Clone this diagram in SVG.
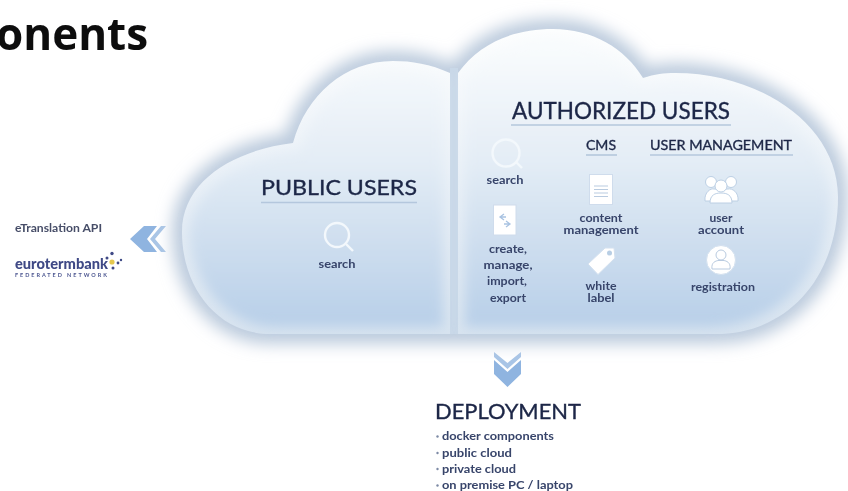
<svg xmlns="http://www.w3.org/2000/svg" width="848" height="491" viewBox="0 0 848 491">
<style>
text{font-family:"Lato","Open Sans","Liberation Sans",sans-serif;fill:#2f3c5e;font-weight:700;filter:url(#t)}
.h{fill:#1d2747;font-weight:400;stroke:#1d2747;stroke-width:.35}
.s{font-size:12px;text-anchor:middle;fill:#37446a}
.d{font-size:12px;fill:#37446a}
.u{stroke:#b4c7dd;stroke-width:1.6;fill:none}
.ic{fill:none;stroke:#f3f8fc;stroke-width:2.4;filter:url(#t)}
.w{fill:#fff;stroke:#cfdcec;stroke-width:1;filter:url(#t)}
.g{stroke:#b9cbe0;stroke-width:1;fill:none}
.c1{fill:#8fb4e0}
.c2{fill:#a9c5e6}
</style>
<defs>
<linearGradient id="base" gradientUnits="userSpaceOnUse" x1="0" y1="30" x2="0" y2="334">
<stop offset="0" stop-color="#fdfefe"/>
<stop offset="0.5" stop-color="#e9f0f7"/>
<stop offset="1" stop-color="#d7e3ef"/>
</linearGradient>
<linearGradient id="fill" gradientUnits="userSpaceOnUse" x1="0" y1="60" x2="0" y2="330">
<stop offset="0" stop-color="#f8fbfd"/>
<stop offset="0.4" stop-color="#e4edf6"/>
<stop offset="0.75" stop-color="#cbdcee"/>
<stop offset="1" stop-color="#b9d0e9"/>
</linearGradient>
<filter id="t" x="-5%" y="-20%" width="110%" height="140%"><feGaussianBlur stdDeviation="0.4"/></filter>
<filter id="halo" x="-15%" y="-20%" width="130%" height="140%"><feGaussianBlur stdDeviation="8"/></filter>
<filter id="inner" x="-10%" y="-10%" width="120%" height="120%"><feMorphology operator="erode" radius="7"/><feGaussianBlur stdDeviation="6"/></filter>
<path id="cloudL" d="M450 73 C430 64 412 61 393 61 C345 61 306 95 293 143 C235 150 182 180 182 232 C182 290 220 334 270 334 L450 334 Z"/>
<path id="cloudR" d="M458 73 C480 42 515 29 553 29 C592 29 625 48 643 78 C655 74 664 73 675 73 C760 73 838 125 838 197 C838 275 790 334 715 334 L458 334 Z"/>
</defs>

<g id="title">
<text x="-4" y="50" style="font-family:'Open Sans','Liberation Sans',sans-serif;font-weight:700;font-size:44px;fill:#0b0b0d" textLength="152" lengthAdjust="spacingAndGlyphs">onents</text>
</g>

<g id="connectors">
<g id="arrow-left">
<polygon class="c1" points="130,239 144,226 157,226 147,239 157,252 144,252"/>
<polygon class="c2" points="150,239 161,226 166,226 155,239 166,252 161,252"/>
</g>
<g id="arrow-down">
<polygon class="c2" points="494,352 507.5,363 521,352 521,357 507.5,369 494,357"/>
<polygon class="c1" points="494,360 507.5,372 521,360 521,374 507.5,387 494,374"/>
</g>
</g>

<g id="cloud">
<g filter="url(#halo)" fill="#bccbdd" stroke="#bccbdd" stroke-width="20">
<use href="#cloudL"/>
<use href="#cloudR"/>
</g>
<rect x="450" y="68" width="8" height="266" fill="#c9d8e8"/>
<use href="#cloudL" fill="url(#base)"/>
<use href="#cloudR" fill="url(#base)"/>
<use href="#cloudL" fill="url(#fill)" filter="url(#inner)"/>
<use href="#cloudR" fill="url(#fill)" filter="url(#inner)"/>
</g>

<g id="public-users">
<text class="h" x="261" y="195" font-size="22" textLength="156" lengthAdjust="spacingAndGlyphs">PUBLIC USERS</text>
<line class="u" x1="261" y1="202.500" x2="417" y2="202.500"/>
</g>
<g id="public-search">
<circle class="ic" cx="337" cy="235" r="12"/>
<line class="ic" x1="346" y1="244" x2="353" y2="251"/>
<text class="s" x="337" y="268" textLength="37" lengthAdjust="spacingAndGlyphs">search</text>
</g>

<g id="authorized-users">
<text class="h" x="512" y="119" font-size="23" textLength="218" lengthAdjust="spacingAndGlyphs">AUTHORIZED USERS</text>
<line class="u" x1="511" y1="125" x2="731" y2="125"/>
</g>
<g id="auth-search">
<circle class="ic" cx="506" cy="153" r="13.500"/>
<line class="ic" x1="516" y1="162" x2="522" y2="168"/>
<text class="s" x="505" y="184" textLength="37" lengthAdjust="spacingAndGlyphs">search</text>
</g>
<g id="cms">
<text class="h" x="586" y="150" font-size="14" textLength="30" lengthAdjust="spacingAndGlyphs">CMS</text>
<line class="u" x1="586" y1="155" x2="617" y2="155"/>
</g>
<g id="user-management">
<text class="h" x="650" y="150" font-size="14" textLength="142" lengthAdjust="spacingAndGlyphs">USER MANAGEMENT</text>
<line class="u" x1="650" y1="155" x2="793" y2="155"/>
</g>
<g id="create-manage">
<rect class="w" x="493.500" y="205" width="22.500" height="30"/>
<path d="M504 214 L500 217 L504 220 M506 217 H500 M506 221 L510 224 L506 227 M504 224 H510" fill="none" stroke="#a9c3e2" stroke-width="1.300"/>
<text class="s" x="508" y="253" textLength="38" lengthAdjust="spacingAndGlyphs">create,</text>
<text class="s" x="508" y="269" textLength="49" lengthAdjust="spacingAndGlyphs">manage,</text>
<text class="s" x="507" y="285" textLength="40" lengthAdjust="spacingAndGlyphs">import,</text>
<text class="s" x="508" y="302" textLength="36" lengthAdjust="spacingAndGlyphs">export</text>
</g>
<g id="content-management">
<rect class="w" x="589.500" y="174.500" width="23" height="30"/>
<path class="g" d="M594 186H608M594 189.500H608M594 193H608M594 196.500H608"/>
<text class="s" x="601" y="222" textLength="43" lengthAdjust="spacingAndGlyphs">content</text>
<text class="s" x="601" y="234" textLength="75" lengthAdjust="spacingAndGlyphs">management</text>
</g>
<g id="white-label">
<path d="M605 248 L614 248 L615 258 L598 274.500 L588 264 Z" fill="#fff" stroke="#d3e0ee" filter="url(#t)"/>
<circle cx="609.500" cy="253" r="2.500" fill="#b8cee4"/>
<text class="s" x="601" y="290" textLength="31" lengthAdjust="spacingAndGlyphs">white</text>
<text class="s" x="601" y="302" textLength="27" lengthAdjust="spacingAndGlyphs">label</text>
</g>
<g id="user-account">
<g fill="#fff" stroke="#bccfe4" stroke-width="1" filter="url(#t)">
<circle cx="711" cy="182" r="5.500"/>
<circle cx="731" cy="182" r="5.500"/>
<path d="M705 201 C704 192 711 188 714 189 L728 189 C732 188 739 192 738 201 Z"/>
<circle cx="721" cy="186" r="6"/>
<path d="M710 203 C710 195 715 193 721 193 C727 193 732 195 732 203 Z"/>
</g>
<text class="s" x="721" y="222" textLength="23" lengthAdjust="spacingAndGlyphs">user</text>
<text class="s" x="721" y="234" textLength="46" lengthAdjust="spacingAndGlyphs">account</text>
</g>
<g id="registration">
<circle cx="721" cy="260" r="14.500" fill="#fff" stroke="#d3e0ee" filter="url(#t)"/>
<circle cx="721" cy="255" r="5" class="g"/>
<path class="g" d="M712 269 C711 262 716 261 718 260.500 H724 C726 261 731 262 730 269 Z"/>
<text class="s" x="723" y="291" textLength="64" lengthAdjust="spacingAndGlyphs">registration</text>
</g>

<g id="etranslation-api">
<text x="15" y="231.500" font-size="11.500" style="fill:#474e68" textLength="87" lengthAdjust="spacingAndGlyphs">eTranslation API</text>
</g>
<g id="eurotermbank">
<text x="15" y="268.500" font-size="14.500" style="fill:#3f4a86;font-weight:900" textLength="93" lengthAdjust="spacingAndGlyphs">eurotermbank</text>
<text x="15" y="276.500" font-size="5.500" style="fill:#4b5690" textLength="92">FEDERATED NETWORK</text>
<g fill="#3f4a86" filter="url(#t)">
<circle cx="112" cy="253.500" r="1.700"/><circle cx="107" cy="258" r="1.500"/><circle cx="121" cy="260" r="1.200"/>
<circle cx="118" cy="263" r="1.400"/><circle cx="113" cy="268" r="1.500"/>
</g>
<circle cx="112" cy="262" r="2.600" fill="#e5c84f"/>
</g>

<g id="deployment">
<text class="h" x="435" y="419" font-size="21" textLength="146" lengthAdjust="spacingAndGlyphs">DEPLOYMENT</text>
<circle cx="437.500" cy="436.500" r="1.200" fill="#7d8aa5"/>
<circle cx="437.500" cy="453" r="1.200" fill="#7d8aa5"/>
<circle cx="437.500" cy="469" r="1.200" fill="#7d8aa5"/>
<circle cx="437.500" cy="485.500" r="1.200" fill="#7d8aa5"/>
<text class="d" x="442" y="440" textLength="112" lengthAdjust="spacingAndGlyphs">docker components</text>
<text class="d" x="442" y="456.500" textLength="70" lengthAdjust="spacingAndGlyphs">public cloud</text>
<text class="d" x="442" y="473" textLength="74" lengthAdjust="spacingAndGlyphs">private cloud</text>
<text class="d" x="442" y="489" textLength="131" lengthAdjust="spacingAndGlyphs">on premise PC / laptop</text>
</g>
</svg>
